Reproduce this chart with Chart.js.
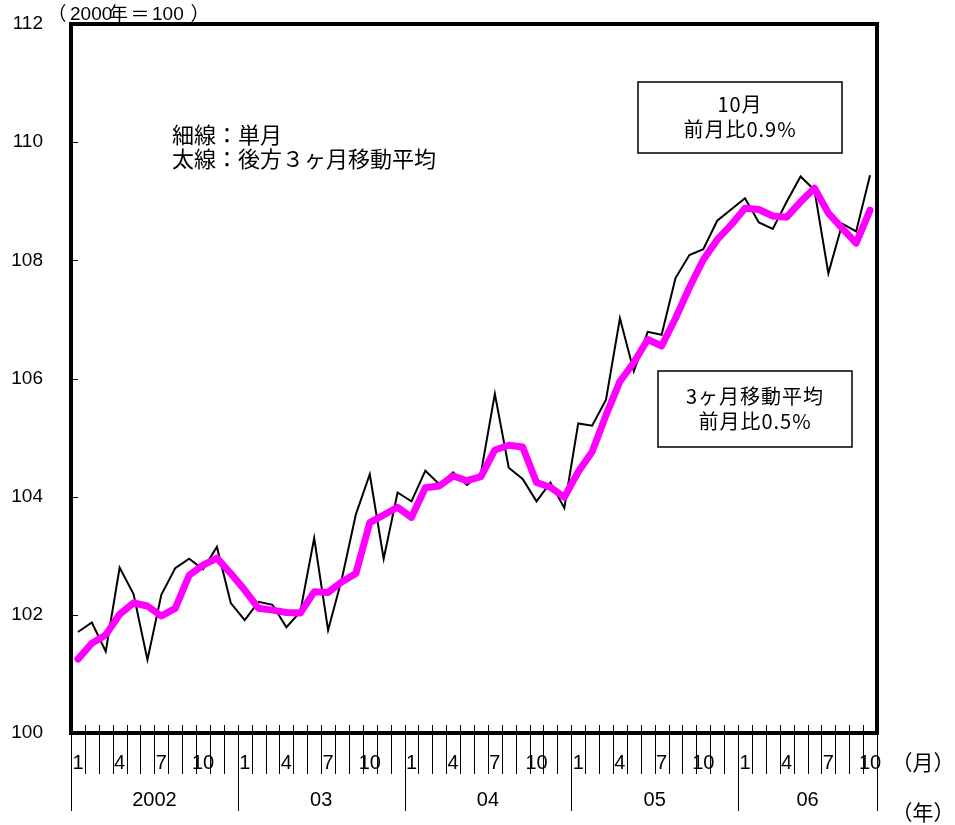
<!DOCTYPE html>
<html>
<head>
<meta charset="utf-8">
<script src="https://cdn.jsdelivr.net/npm/chart.js@4.4.1/dist/chart.umd.min.js"></script>
<style>
  html, body { margin: 0; padding: 0; background: #fff; }
</style>
</head>
<body>
<canvas id="chart" width="955" height="825"></canvas>
<script>
// 2002.1 - 2006.10 monthly index (2000 = 100)
const years = ["2002", "03", "04", "05", "06"];
const monthTicks = ["1", "4", "7", "10"];
const yTicks = [100, 102, 104, 106, 108, 110, 112];

const single = [
  101.71, 101.87, 101.38, 102.80, 102.35, 101.24, 102.34, 102.79, 102.95, 102.77, 103.15, 102.20,
  101.91, 102.22, 102.17, 101.79, 102.05, 103.30, 101.74, 102.62, 103.70, 104.38, 102.95, 104.07,
  103.92, 104.44, 104.21, 104.41, 104.20, 104.40, 105.74, 104.49, 104.30, 103.92, 104.24, 103.81,
  105.24, 105.20, 105.64, 107.02, 106.12, 106.79, 106.74, 107.70, 108.09, 108.19, 108.67, 108.86,
  109.05, 108.64, 108.53, 108.99, 109.42, 109.19, 107.78, 108.62, 108.49, 109.44
];

const moving3 = [
  101.25, 101.52, 101.66, 102.01, 102.20, 102.15, 101.98, 102.11, 102.67, 102.84, 102.96, 102.70,
  102.42, 102.11, 102.08, 102.04, 102.03, 102.39, 102.38, 102.56, 102.70, 103.56, 103.69, 103.82,
  103.65, 104.15, 104.18, 104.35, 104.27, 104.34, 104.79, 104.87, 104.84, 104.24, 104.16, 103.99,
  104.42, 104.76, 105.38, 105.95, 106.27, 106.66, 106.55, 107.02, 107.54, 108.01, 108.35, 108.60,
  108.88, 108.86, 108.75, 108.73, 108.99, 109.22, 108.80, 108.54, 108.29, 108.85
];

// one label per month, "year-month"
const categories = [];
years.forEach((y, yi) => {
  const last = yi === years.length - 1 ? 10 : 12;
  for (let m = 1; m <= last; m++) categories.push(y + "-" + m);
});

const JP = '"Noto Sans CJK JP", "Noto Sans", sans-serif';
const NUM = '"Liberation Sans", Arial, sans-serif';

const framePlugin = {
  id: "frame",
  afterDraw(chart) {
    const { ctx, chartArea: a, scales: { x, y } } = chart;
    const step = x.getPixelForValue(1) - x.getPixelForValue(0);
    ctx.save();

    // plot frame
    ctx.strokeStyle = "#000";
    ctx.lineWidth = 4;
    ctx.strokeRect(a.left, a.top, a.right - a.left, a.bottom - a.top);

    // inner y ticks
    ctx.lineWidth = 1;
    yTicks.slice(1, -1).forEach(v => {
      const py = Math.round(y.getPixelForValue(v)) + 0.5;
      ctx.beginPath();
      ctx.moveTo(a.left, py);
      ctx.lineTo(a.left + 7, py);
      ctx.stroke();
    });

    // month / year separators under the axis
    for (let i = 0; i <= categories.length; i++) {
      const px = Math.round(x.getPixelForValue(i) - step / 2) + 0.5;
      const isYear = i % 12 === 0 || i === categories.length;
      ctx.beginPath();
      ctx.moveTo(px, a.bottom - 8);
      ctx.lineTo(px, a.bottom + (isYear ? 78 : 41));
      ctx.stroke();
    }

    // month labels
    ctx.fillStyle = "#000";
    ctx.textAlign = "center";
    ctx.textBaseline = "middle";
    ctx.font = "20px " + NUM;
    categories.forEach((c, i) => {
      const m = c.split("-")[1];
      if (monthTicks.includes(m)) ctx.fillText(m, x.getPixelForValue(i), a.bottom + 30);
    });

    // year labels
    years.forEach((yr, yi) => {
      const s = yi * 12;
      const e = Math.min(s + 12, categories.length);
      const cx = (x.getPixelForValue(s) + x.getPixelForValue(e - 1)) / 2;
      ctx.fillText(yr, cx, a.bottom + 67);
    });

    ctx.font = "21px " + JP;
    ctx.fillText("（月）", 923, a.bottom + 29);
    ctx.fillText("（年）", 923, a.bottom + 79);

    // header "(2000年＝100)"
    ctx.font = "19px " + JP;
    ctx.fillText("（", 57, 14);
    ctx.fillText("＝", 140, 14);
    ctx.fillText("）", 200, 14);
    ctx.textAlign = "left";
    ctx.font = "19px " + NUM;
    ctx.fillText("2000", 70, 15);
    ctx.fillText("100", 152, 15);
    ctx.font = "19px " + JP;
    ctx.fillText("年", 109, 14);

    // legend text
    ctx.font = "22px " + JP;
    ctx.fillText("細線：単月", 172, 135);
    ctx.fillText("太線：後方３ヶ月移動平均", 172, 159);

    // note boxes
    ctx.lineWidth = 1.5;
    ctx.strokeRect(638, 82, 204, 71);
    ctx.strokeRect(658, 371, 194, 76);
    ctx.textAlign = "center";
    ctx.font = "20px " + JP;
    ctx.letterSpacing = "1px";
    ctx.fillText("10月", 740, 104);
    ctx.fillText("前月比0.9%", 740, 129);
    ctx.fillText("3ヶ月移動平均", 755, 396);
    ctx.fillText("前月比0.5%", 755, 421);

    ctx.restore();
  }
};

new Chart(document.getElementById("chart"), {
  type: "line",
  data: {
    labels: categories,
    datasets: [
      {
        label: "単月",
        data: single,
        borderColor: "#000",
        borderWidth: 2,
        pointRadius: 0,
        tension: 0,
        order: 2
      },
      {
        label: "後方3ヶ月移動平均",
        data: moving3,
        borderColor: "#ff00ff",
        borderWidth: 7,
        pointRadius: 0,
        tension: 0,
        borderJoinStyle: "round",
        borderCapStyle: "round",
        order: 1
      }
    ]
  },
  options: {
    responsive: false,
    animation: false,
    devicePixelRatio: 1,
    layout: { padding: { left: 0, right: 78, top: 24, bottom: 92 } },
    plugins: {
      legend: { display: false },
      tooltip: { enabled: false }
    },
    scales: {
      x: {
        type: "category",
        offset: true,
        display: false
      },
      y: {
        min: 100,
        max: 112,
        afterFit: s => {
          s.width = 71;
          s.paddingTop = 0;
          s.paddingBottom = 0;
        },
        afterBuildTicks: s => { s.ticks = yTicks.map(v => ({ value: v })); },
        grid: { display: false, drawTicks: false },
        border: { display: false },
        ticks: {
          color: "#000",
          padding: 28,
          font: { family: "Liberation Sans", size: 19 }
        }
      }
    }
  },
  plugins: [framePlugin]
});
</script>
</body>
</html>
